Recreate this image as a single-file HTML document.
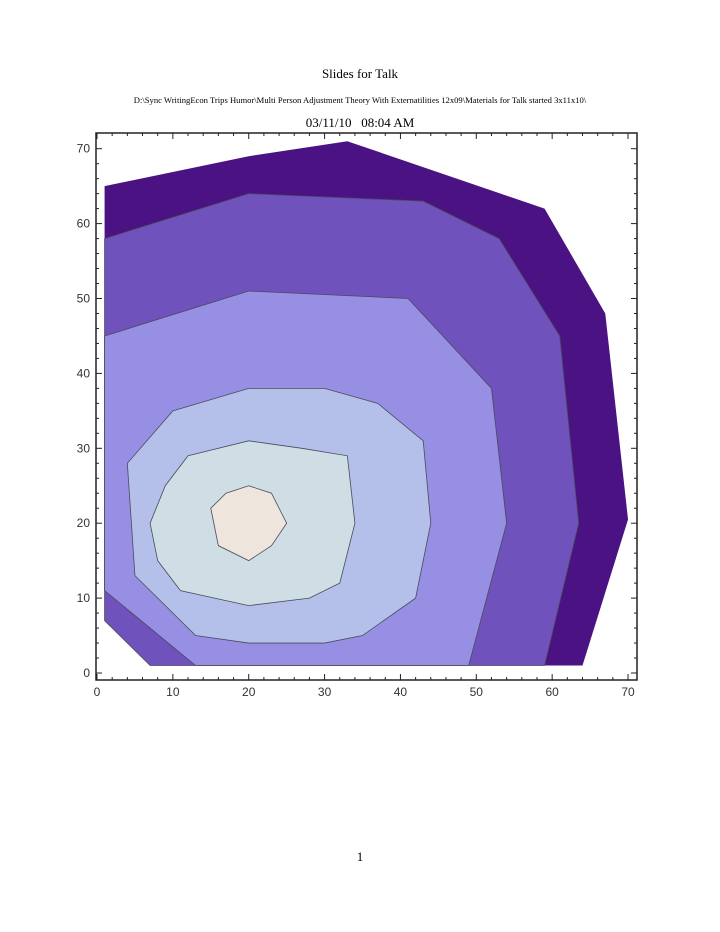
<!DOCTYPE html>
<html><head><meta charset="utf-8"><style>
body{margin:0;background:#fff;width:720px;height:932px;position:relative;overflow:hidden;font-family:"Liberation Serif",serif}
.t{position:absolute;left:0;width:720px;text-align:center;color:#000}
</style></head><body>
<div class="t" style="top:66px;font-size:13px">Slides for Talk</div>
<div class="t" style="top:95px;font-size:8.6px">D:\Sync WritingEcon Trips Humor\Multi Person Adjustment Theory With Externatilities 12x09\Materials for Talk started 3x11x10\</div>
<div class="t" style="top:115px;font-size:13px">03/11/10&nbsp;&nbsp;&nbsp;08:04 AM</div>
<div class="t" style="top:849px;font-size:13px">1</div>
<svg id="chart" width="720" height="932" style="position:absolute;left:0;top:0"></svg>
<script>
const levelNames=['level-1','level-2','level-3','level-4','level-5','level-6'];
const levelColors=['#4a1283','#6f52bb','#978fe4','#b4c0e9','#cfdde5','#eee6dc'];
const contour1=[[1,65],[20,69],[33,71],[59,62],[67,48],[70,20.5],[64,1],[7,1],[1,7]];
const contour2=[[1,58],[20,64],[43,63],[53,58],[61,45],[63.5,20],[59,1],[7,1],[1,7]];
const contour3=[[1,45],[20,51],[41,50],[52,38],[54,20],[49,1],[13,1],[1,11]];
const contour4=[[10,35],[20,38],[30,38],[37,36],[43,31],[44,20],[42,10],[35,5],[30,4],[20,4],[13,5],[5,13],[4,28]];
const contour5=[[12,29],[20,31],[27,30],[33,29],[34,20],[32,12],[28,10],[20,9],[11,11],[8,15],[7,20],[9,25]];
const contour6=[[20,25],[23,24],[25,20],[23,17],[20,15],[16,17],[15,22],[17,24]];
const xTicks=[0,10,20,30,40,50,60,70];
const yTicks=[0,10,20,30,40,50,60,70];
const NS='http://www.w3.org/2000/svg';
const svg=document.getElementById('chart');
const sx=v=>97+v*7.586, sy=v=>673-v*7.49;
const contours=[contour1,contour2,contour3,contour4,contour5,contour6];
contours.forEach((c,i)=>{
  const p=document.createElementNS(NS,'polygon');
  p.setAttribute('points',c.map(d=>sx(d[0])+','+sy(d[1])).join(' '));
  p.setAttribute('fill',levelColors[i]);
  p.setAttribute('stroke',i==0?'none':'#4a4a5a');
  p.setAttribute('stroke-width','0.8');
  
  
  svg.appendChild(p);
});
const frame=document.createElementNS(NS,'rect');
frame.setAttribute('x',96);frame.setAttribute('y',133);frame.setAttribute('width',541);frame.setAttribute('height',547);
frame.setAttribute('fill','none');frame.setAttribute('stroke','#222');frame.setAttribute('stroke-width','1.5');


svg.appendChild(frame);
function line(x1,y1,x2,y2,n){const l=document.createElementNS(NS,'line');l.setAttribute('x1',x1);l.setAttribute('y1',y1);l.setAttribute('x2',x2);l.setAttribute('y2',y2);l.setAttribute('stroke','#222');l.setAttribute('stroke-width','1');


svg.appendChild(l);}
for(let v=0;v<=70;v+=2){const big=v%10==0,L=big?6:3;
 line(sx(v),680,sx(v),680-L,'x-tick');line(sx(v),133,sx(v),133+L,'x-tick-top');
 line(96,sy(v),96+L,sy(v),'y-tick');line(637,sy(v),637-L,sy(v),'y-tick-right');}
xTicks.forEach(v=>{const t=document.createElementNS(NS,'text');t.setAttribute('x',sx(v));t.setAttribute('y',696);t.setAttribute('text-anchor','middle');t.setAttribute('font-family','Liberation Sans, sans-serif');t.setAttribute('font-size','12');t.setAttribute('fill','#333');t.textContent=v;


svg.appendChild(t);});
yTicks.forEach(v=>{const t=document.createElementNS(NS,'text');t.setAttribute('x',90);t.setAttribute('y',sy(v)+4);t.setAttribute('text-anchor','end');t.setAttribute('font-family','Liberation Sans, sans-serif');t.setAttribute('font-size','12');t.setAttribute('fill','#333');t.textContent=v;


svg.appendChild(t);});
</script>
</body></html>
